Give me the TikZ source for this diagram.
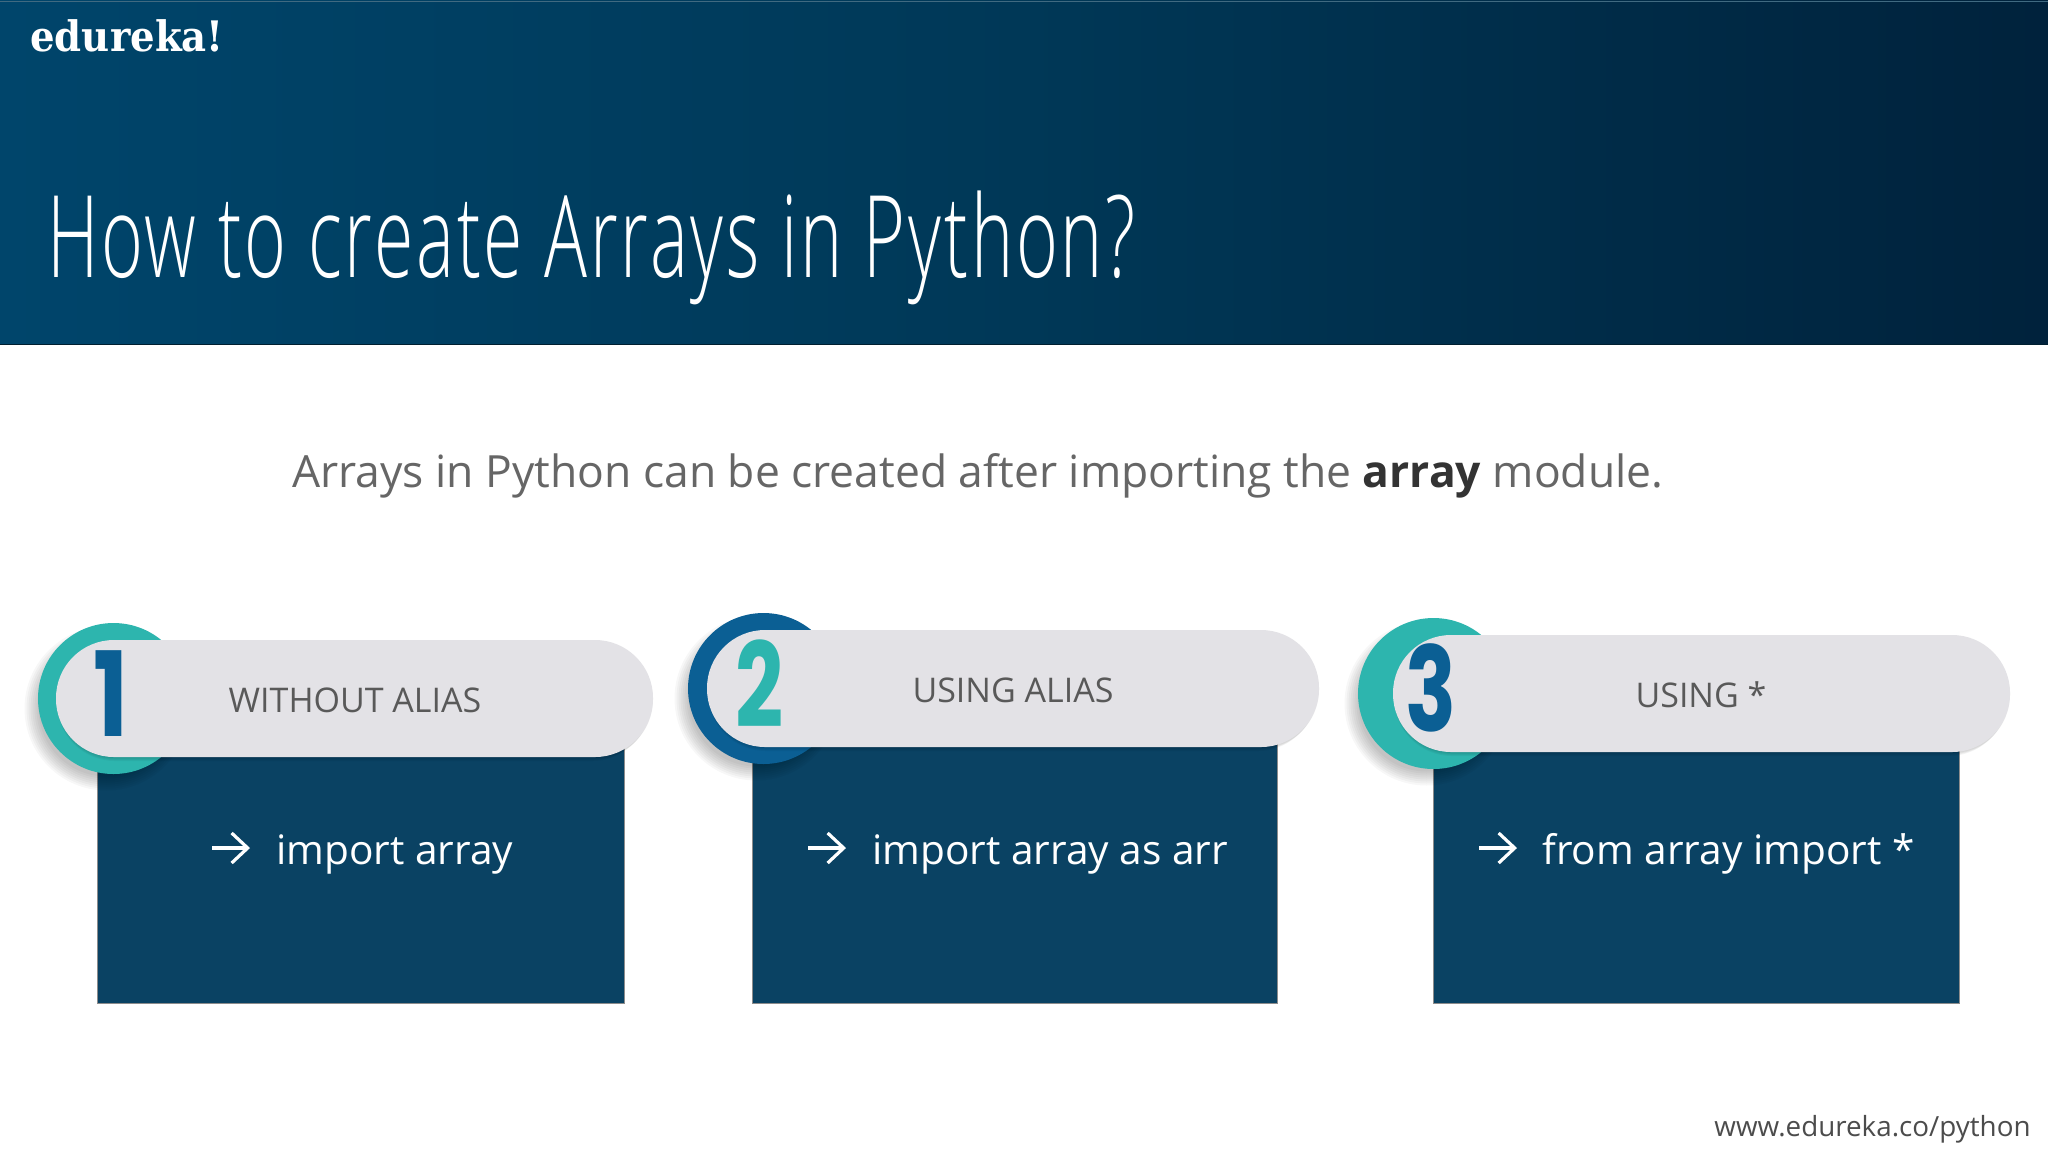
\documentclass[tikz,border=0pt]{standalone}
\usepackage{fontspec}
\setmainfont{Open Sans}
\newfontfamily\logofont{DejaVu Serif}
\newfontfamily\titlefont{Open Sans Light}[LetterSpace=4]
\newfontfamily\digitfont{Poppins}
\usetikzlibrary{arrows.meta}
\definecolor{headL}{HTML}{00456B}
\definecolor{headM}{HTML}{003857}
\definecolor{headR}{HTML}{00223C}
\definecolor{boxblue}{HTML}{0A4263}
\definecolor{pillgray}{HTML}{E3E2E6}
\definecolor{tealc}{HTML}{2DB5AE}
\definecolor{numblue}{HTML}{0B5F94}
\definecolor{labelgray}{HTML}{595959}
\definecolor{bodygray}{HTML}{666666}
\tikzset{
  x=0.5pt,y=-0.5pt,
  panel/.style={fill=boxblue,draw=black!45,line width=0.5pt},
  pilltext/.style={text=labelgray,font=\fontsize{17}{20}\selectfont,anchor=center,inner sep=0pt},
  cmd/.style={text=white,font=\fontsize{20.3}{24}\selectfont,anchor=west,inner sep=0pt},
  cmdarrow/.style={white,line width=1.6pt,-{Straight Barb[length=8pt,width=15pt,line width=1.6pt]}},
  numeral/.style={font=\digitfont\bfseries\fontsize{49}{50}\selectfont,inner sep=0pt,anchor=center}
}
% #1 rect l, #2 rect r, #3 pill l, #4 pill r, #5 pill t, #6 pill b, #7 circle l, #8 circle colour
\newcommand{\cardshape}[8]{%
  \pgfmathsetmacro{\cx}{#7+75.5}%
  \pgfmathsetmacro{\cy}{(#5+#6)/2}%
  \pgfmathsetmacro{\pt}{#6-10}%
  \draw[panel] (#1,\pt) rectangle (#2,1003);
  \foreach \k in {0,2,...,14}{
    \fill[black,opacity=0.03] ({\cx-7},{\cy+10}) circle ({82-\k});
  }
  \fill[#8] (\cx,\cy) circle (75.5);
  \foreach \k in {0,1,2,3}{
    \fill[black,opacity=0.04,rounded corners=29pt] ({#3+1},{#5+1+\k}) rectangle ({#4-\k},{#6+1+\k});
  }
  \fill[pillgray,rounded corners=29pt] (#3,#5) rectangle (#4,#6);
}
\begin{document}
\begin{tikzpicture}
\useasboundingbox (0,0) rectangle (2048,1152);
\fill[white] (0,0) rectangle (2048,1152);
% header
\shade[left color=headL,right color=headR,middle color=headM] (0,0) rectangle (2048,344);
\draw[black!45!headM,line width=0.5pt] (0,344) -- (2048,344);
\draw[white!25!headM,line width=0.5pt] (0,1) -- (2048,1);
\node[text=white,anchor=west,inner sep=0pt] (logo) at (30,36)
  {\scalebox{0.92}[1]{\logofont\bfseries\fontsize{21}{24}\selectfont edureka!}};
\node[text=white,anchor=base west,inner sep=0pt] (title) at (47,277)
  {\scalebox{0.627}[1]{\titlefont\fontsize{57}{60}\selectfont How to create Arrays in Python?}};
% intro
\node[text=bodygray,anchor=west,inner sep=0pt,font=\fontsize{22.2}{26}\selectfont] (intro) at (292,476)
  {Arrays in Python can be created after importing the {\bfseries\color{black!80}array} module.};
% card 1
\cardshape{97}{624}{56}{653}{640}{757}{38}{tealc}
\node[numeral,text=numblue] (n1) at (111,694) {\scalebox{0.95}[1.2]{1}};
\node[pilltext] (l1) at (355,700) {WITHOUT ALIAS};
\coordinate (a1s) at (212,848);
\coordinate (a1e) at (250,848);
\draw[cmdarrow] (a1s) -- (a1e);
\node[cmd] (c1) at (276,854) {import array};
% card 2
\cardshape{752}{1277}{707}{1319}{630}{747}{688}{numblue}
\node[numeral,text=tealc] (n2) at (760,684) {\scalebox{0.86}[1.2]{2}};
\node[pilltext] (l2) at (1013,690) {USING ALIAS};
\coordinate (a2s) at (808,848);
\coordinate (a2e) at (846,848);
\draw[cmdarrow] (a2s) -- (a2e);
\node[cmd] (c2) at (872,854) {import array as arr};
% card 3
\cardshape{1433}{1959}{1393}{2010}{635}{752}{1358}{tealc}
\node[numeral,text=numblue] (n3) at (1431,688) {\scalebox{0.86}[1.2]{3}};
\node[pilltext] (l3) at (1701,695) {USING *};
\coordinate (a3s) at (1479,848);
\coordinate (a3e) at (1517,848);
\draw[cmdarrow] (a3s) -- (a3e);
\node[cmd] (c3) at (1542,854) {from array import *};
% footer
\node[text=black!70,anchor=east,inner sep=0pt,font=\fontsize{13.9}{18}\selectfont] (url) at (2031,1129) {www.edureka.co/python};
\end{tikzpicture}
\end{document}
